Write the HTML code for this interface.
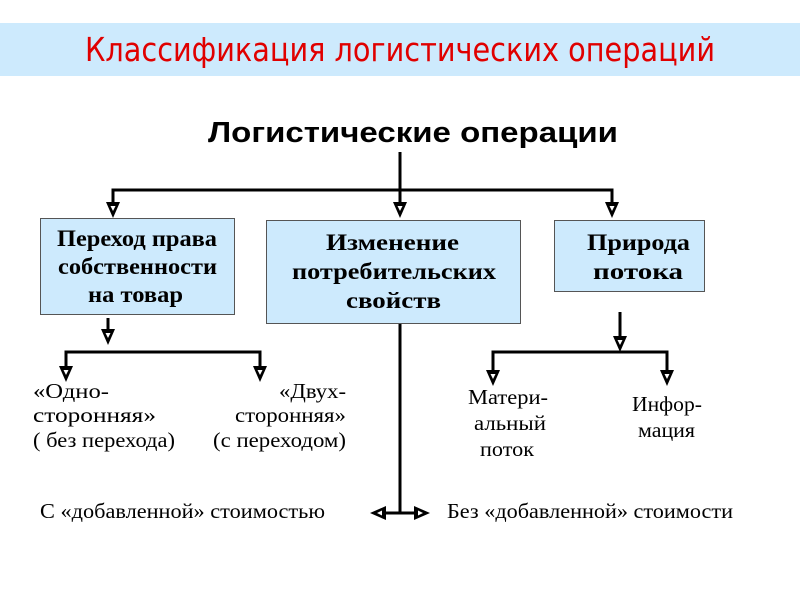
<!DOCTYPE html>
<html><head><meta charset="utf-8"><style>
body{margin:0;width:800px;height:600px;background:#fff;overflow:hidden}
svg{display:block}
.s{font-family:"Liberation Serif",serif;font-size:21px;fill:#000}
.b{font-family:"Liberation Serif",serif;font-size:23px;font-weight:bold;fill:#000}
</style></head><body>
<svg width="800" height="600" viewBox="0 0 800 600">
<defs>
<g id="ad"><polygon points="-7,-14 7,-14 0,2" fill="#000"/><polygon points="-2.5,-10 2.5,-10 0,-5" fill="#fff"/></g>
</defs>
<rect x="0" y="23" width="800" height="53" fill="#cdeafd"/>
<text x="85" y="61" textLength="630" lengthAdjust="spacingAndGlyphs" font-family="'DejaVu Sans','Liberation Sans',sans-serif" font-size="33" fill="#e00000">Классификация логистических операций</text>
<text x="208" y="142" textLength="410" lengthAdjust="spacingAndGlyphs" font-family="'Liberation Sans',sans-serif" font-size="29" font-weight="bold">Логистические операции</text>
<g stroke="#000" stroke-width="3" fill="none">
<line x1="400" y1="152" x2="400" y2="205"/>
<polyline points="113,205 113,190 612,190 612,205"/>
<line x1="108" y1="318" x2="108" y2="330"/>
<polyline points="66,368 66,352 260,352 260,368"/>
<line x1="400" y1="323" x2="400" y2="513"/>
<line x1="380" y1="513" x2="420" y2="513"/>
<line x1="620" y1="312" x2="620" y2="340"/>
<polyline points="493,370 493,352 667,352 667,370"/>
</g>
<use href="#ad" x="113" y="216"/><use href="#ad" x="400" y="216"/><use href="#ad" x="612" y="216"/>
<use href="#ad" x="108" y="343"/>
<use href="#ad" x="66" y="380"/><use href="#ad" x="260" y="380"/>
<use href="#ad" x="620" y="350"/>
<use href="#ad" x="493" y="384"/><use href="#ad" x="667" y="384"/>
<use href="#ad" transform="translate(372,513) rotate(90)"/>
<use href="#ad" transform="translate(428,513) rotate(-90)"/>
<rect x="40.5" y="218.5" width="194" height="96" fill="#cdeafd" stroke="#555"/>
<rect x="266.5" y="220.5" width="254" height="103" fill="#cdeafd" stroke="#555"/>
<rect x="554.5" y="220.5" width="150" height="71" fill="#cdeafd" stroke="#555"/>
<text x="57" y="246" class="b" textLength="160" lengthAdjust="spacingAndGlyphs">Переход права</text>
<text x="58" y="274" class="b" textLength="159" lengthAdjust="spacingAndGlyphs">собственности</text>
<text x="88" y="302" class="b" textLength="95" lengthAdjust="spacingAndGlyphs">на товар</text>
<text x="326" y="250" class="b" textLength="133" lengthAdjust="spacingAndGlyphs">Изменение</text>
<text x="292" y="279" class="b" textLength="204" lengthAdjust="spacingAndGlyphs">потребительских</text>
<text x="346" y="308" class="b" textLength="95" lengthAdjust="spacingAndGlyphs">свойств</text>
<text x="587" y="250" class="b" textLength="103" lengthAdjust="spacingAndGlyphs">Природа</text>
<text x="593" y="279" class="b" textLength="90" lengthAdjust="spacingAndGlyphs">потока</text>
<text x="33" y="398" class="s" textLength="76" lengthAdjust="spacingAndGlyphs">«Одно-</text>
<text x="33" y="422" class="s" textLength="123" lengthAdjust="spacingAndGlyphs">сторонняя»</text>
<text x="33" y="447" class="s" textLength="142" lengthAdjust="spacingAndGlyphs">( без перехода)</text>
<text x="279" y="398" class="s" textLength="67" lengthAdjust="spacingAndGlyphs">«Двух-</text>
<text x="235" y="422" class="s" textLength="111" lengthAdjust="spacingAndGlyphs">сторонняя»</text>
<text x="213" y="447" class="s" textLength="133" lengthAdjust="spacingAndGlyphs">(с переходом)</text>
<text x="468" y="404" class="s" textLength="80" lengthAdjust="spacingAndGlyphs">Матери-</text>
<text x="474" y="430" class="s" textLength="72" lengthAdjust="spacingAndGlyphs">альный</text>
<text x="480" y="456" class="s" textLength="54" lengthAdjust="spacingAndGlyphs">поток</text>
<text x="632" y="411" class="s" textLength="70" lengthAdjust="spacingAndGlyphs">Инфор-</text>
<text x="638" y="437" class="s" textLength="57" lengthAdjust="spacingAndGlyphs">мация</text>
<text x="40" y="518" class="s" textLength="285" lengthAdjust="spacingAndGlyphs">С «добавленной» стоимостью</text>
<text x="447" y="518" class="s" textLength="286" lengthAdjust="spacingAndGlyphs">Без «добавленной» стоимости</text>
</svg>
</body></html>
